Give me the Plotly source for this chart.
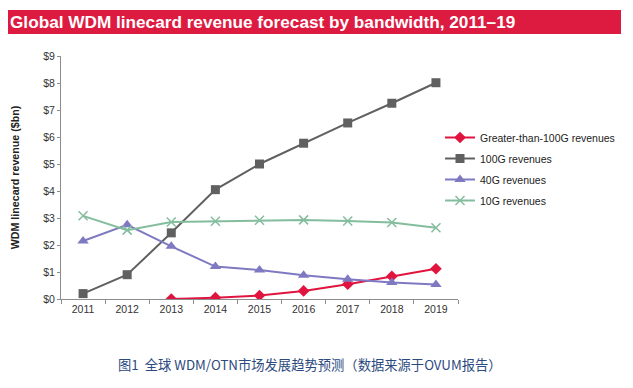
import plotly.graph_objects as go

years = ["2011", "2012", "2013", "2014", "2015", "2016", "2017", "2018", "2019"]
gt100g = [None, None, 0.0, 0.05, 0.13, 0.30, 0.55, 0.84, 1.12]
g100 = [0.20, 0.90, 2.45, 4.05, 5.00, 5.77, 6.52, 7.25, 8.01]
g40 = [2.15, 2.75, 1.95, 1.20, 1.07, 0.88, 0.73, 0.61, 0.54]
g10 = [3.08, 2.55, 2.85, 2.88, 2.92, 2.93, 2.89, 2.83, 2.64]
ytickvals = list(range(0, 10))
yticklabels = ["$%d" % v for v in ytickvals]

# the page body has an 8px margin; positions below are given in the
# reference picture's pixels and shifted by OFF into figure pixels
OFF = 8
W, H = 633 - OFF, 388 - OFF
L, R, T, B = 61 - OFF, W - (458 - OFF), 56 - OFF, H - (299 - OFF)
pw, ph = W - L - R, H - T - B


def px(x):
    return (x - OFF - L) / pw


def py(y):
    return (H - B - (y - OFF)) / ph


FONT = "Liberation Sans, Arial, sans-serif"

fig = go.Figure()
fig.add_trace(go.Scatter(x=years, y=gt100g, name="Greater-than-100G revenues", mode="lines+markers",
                         legendgroup="a",
                         line=dict(color="#E0143E", width=2),
                         marker=dict(symbol="diamond", size=9, color="#E0143E")))
fig.add_trace(go.Scatter(x=years, y=g100, name="100G revenues", mode="lines+markers",
                         legendgroup="b",
                         line=dict(color="#606060", width=2),
                         marker=dict(symbol="square", size=9, color="#606060")))
fig.add_trace(go.Scatter(x=years, y=g40, name="40G revenues", mode="lines+markers",
                         legendgroup="c",
                         line=dict(color="#7F79C2", width=2),
                         marker=dict(symbol="triangle-up", size=10, color="#7F79C2")))
fig.add_trace(go.Scatter(x=years, y=g10, name="10G revenues", mode="lines+markers",
                         legendgroup="d",
                         line=dict(color="#84BD9E", width=2),
                         marker=dict(symbol="x-thin", size=9, color="#84BD9E",
                                     line=dict(color="#84BD9E", width=1.5))))

fig.update_layout(
    width=W, height=H,
    margin=dict(l=L, r=R, t=T, b=B, autoexpand=False),
    paper_bgcolor="white", plot_bgcolor="white",
    font=dict(family=FONT, size=10.5, color="#333333"),
    showlegend=True,
    legend=dict(x=px(440), y=py(123), xanchor="left", yanchor="top",
                font=dict(size=10.5, color="#222222"), tracegroupgap=2,
                itemwidth=30, bgcolor="rgba(0,0,0,0)"),
    xaxis=dict(type="category", range=[-0.5, 8.5], showgrid=False, showline=True,
               linecolor="#8C8C8C", linewidth=1, ticks="outside", tickson="boundaries",
               ticklen=4, tickcolor="#8C8C8C", tickfont=dict(size=10.5, color="#333333"),
               zeroline=False),
    yaxis=dict(range=[0, 9], tickvals=ytickvals, ticktext=yticklabels, showgrid=False,
               showline=True, linecolor="#8C8C8C", linewidth=1, ticks="outside",
               ticklen=3, tickcolor="#8C8C8C", tickfont=dict(size=10.5, color="#333333"),
               zeroline=False,
               title=dict(text="<b>WDM linecard revenue ($bn)</b>",
                          font=dict(size=10.7, color="#222222"), standoff=21)),
)

fig.add_shape(type="rect", xref="paper", yref="paper",
              x0=px(5), x1=px(621), y0=py(34), y1=py(10),
              fillcolor="#DD1B40", line=dict(width=0), layer="below")
fig.add_annotation(xref="paper", yref="paper", x=px(8), y=py(22), xanchor="left", yanchor="middle",
                   text="<b>Global WDM linecard revenue forecast by bandwidth, 2011–19</b>",
                   showarrow=False, font=dict(size=17.2, color="white", family=FONT))
fig.add_annotation(xref="paper", yref="paper", x=px(310), y=py(364), xanchor="center", yanchor="middle",
                   text="图1  全球 WDM/OTN市场发展趋势预测（数据来源于OVUM报告）",
                   showarrow=False, font=dict(size=13.3, color="#2C4A7E",
                                              family="Noto Sans CJK SC, sans-serif"))

fig.write_html("out.html")
